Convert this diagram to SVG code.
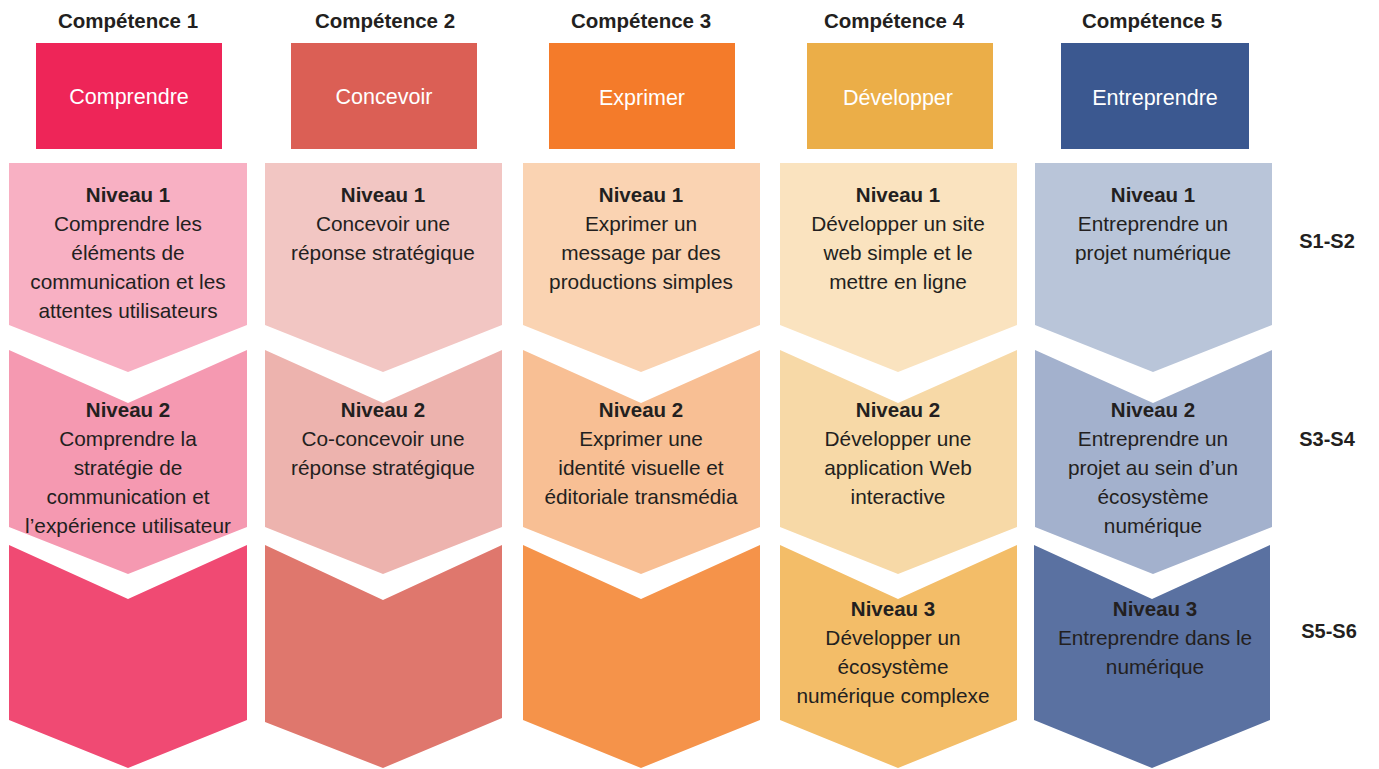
<svg xmlns="http://www.w3.org/2000/svg" width="1379" height="769" viewBox="0 0 1379 769">
<style>
text{font-family:"Liberation Sans",Arial,sans-serif;text-anchor:middle}
.h{font-size:20.5px;font-weight:bold;fill:#231f20}
.w{font-size:21.5px;fill:#ffffff}
.t{font-size:20.8px;fill:#231f20}
.n{font-size:20.5px;font-weight:bold;fill:#231f20}
.s{font-size:20px;font-weight:bold;fill:#231f20}
</style>
<rect width="1379" height="769" fill="#ffffff"/>
<g id="headers">
<g id="comp1"><text class="h" x="128" y="28">Compétence 1</text><rect x="36" y="43" width="186" height="106" fill="#ee2558"/><text class="w" x="129" y="104">Comprendre</text></g>
<g id="comp2"><text class="h" x="385" y="28">Compétence 2</text><rect x="291" y="43" width="186" height="106" fill="#db5f55"/><text class="w" x="384" y="104">Concevoir</text></g>
<g id="comp3"><text class="h" x="641" y="28">Compétence 3</text><rect x="549" y="43" width="186" height="106" fill="#f47b2a"/><text class="w" x="642" y="105">Exprimer</text></g>
<g id="comp4"><text class="h" x="894" y="28">Compétence 4</text><rect x="807" y="43" width="186" height="106" fill="#ebae48"/><text class="w" x="898" y="105">Développer</text></g>
<g id="comp5"><text class="h" x="1152" y="28">Compétence 5</text><rect x="1061" y="43" width="188" height="106" fill="#3b5890"/><text class="w" x="1155" y="105">Entreprendre</text></g>
</g>
<g id="col1">
<polygon points="9,163 247,163 247,325 128,372 9,325" fill="#f8b0c3"/>
<polygon points="9,350 128,403 247,350 247,527 128,574 9,527" fill="#f599b1"/>
<polygon points="9,545 128,599 247,545 247,720 128,768 9,720" fill="#f04a73"/>
<text class="n" x="128" y="202">Niveau 1</text>
<text class="t" x="128" y="231">Comprendre les</text>
<text class="t" x="128" y="260">éléments de</text>
<text class="t" x="128" y="289">communication et les</text>
<text class="t" x="128" y="318">attentes utilisateurs</text>
<text class="n" x="128" y="417">Niveau 2</text>
<text class="t" x="128" y="446">Comprendre la</text>
<text class="t" x="128" y="475">stratégie de</text>
<text class="t" x="128" y="504">communication et</text>
<text class="t" x="128" y="533">l’expérience utilisateur</text>
</g>
<g id="col2">
<polygon points="265,163 502,163 502,325 383,372 265,325" fill="#f2c6c3"/>
<polygon points="265,350 383,403 502,350 502,527 383,574 265,527" fill="#edb3ae"/>
<polygon points="265,545 383,600 502,545 502,718 383,768 265,722" fill="#df776d"/>
<text class="n" x="383" y="202">Niveau 1</text>
<text class="t" x="383" y="231">Concevoir une</text>
<text class="t" x="383" y="260">réponse stratégique</text>
<text class="n" x="383" y="417">Niveau 2</text>
<text class="t" x="383" y="446">Co-concevoir une</text>
<text class="t" x="383" y="475">réponse stratégique</text>
</g>
<g id="col3">
<polygon points="523,163 760,163 760,325 641,372 523,325" fill="#fad3b2"/>
<polygon points="523,350 641,403 760,350 760,527 641,574 523,527" fill="#f8bf94"/>
<polygon points="523,545 641,599 760,545 760,720 641,768 523,720" fill="#f5934a"/>
<text class="n" x="641" y="202">Niveau 1</text>
<text class="t" x="641" y="231">Exprimer un</text>
<text class="t" x="641" y="260">message par des</text>
<text class="t" x="641" y="289">productions simples</text>
<text class="n" x="641" y="417">Niveau 2</text>
<text class="t" x="641" y="446">Exprimer une</text>
<text class="t" x="641" y="475">identité visuelle et</text>
<text class="t" x="641" y="504">éditoriale transmédia</text>
</g>
<g id="col4">
<polygon points="780,163 1017,163 1017,325 898,372 780,325" fill="#fae3bf"/>
<polygon points="780,350 898,403 1017,350 1017,527 898,574 780,527" fill="#f7d9a7"/>
<polygon points="780,545 898,599 1017,545 1017,720 898,768 780,720" fill="#f3bd68"/>
<text class="n" x="898" y="202">Niveau 1</text>
<text class="t" x="898" y="231">Développer un site</text>
<text class="t" x="898" y="260">web simple et le</text>
<text class="t" x="898" y="289">mettre en ligne</text>
<text class="n" x="898" y="417">Niveau 2</text>
<text class="t" x="898" y="446">Développer une</text>
<text class="t" x="898" y="475">application Web</text>
<text class="t" x="898" y="504">interactive</text>
<text class="n" x="893" y="616">Niveau 3</text>
<text class="t" x="893" y="645">Développer un</text>
<text class="t" x="893" y="674">écosystème</text>
<text class="t" x="893" y="703">numérique complexe</text>
</g>
<g id="col5">
<polygon points="1035,163 1272,163 1272,325 1153,372 1035,325" fill="#b9c5d9"/>
<polygon points="1035,350 1153,403 1272,350 1272,527 1153,574 1035,527" fill="#a3b1cd"/>
<polygon points="1034,545 1152,599 1270,545 1270,720 1152,768 1034,720" fill="#5a71a1"/>
<text class="n" x="1153" y="202">Niveau 1</text>
<text class="t" x="1153" y="231">Entreprendre un</text>
<text class="t" x="1153" y="260">projet numérique</text>
<text class="n" x="1153" y="417">Niveau 2</text>
<text class="t" x="1153" y="446">Entreprendre un</text>
<text class="t" x="1153" y="475">projet au sein d’un</text>
<text class="t" x="1153" y="504">écosystème</text>
<text class="t" x="1153" y="533">numérique</text>
<text class="n" x="1155" y="616">Niveau 3</text>
<text class="t" x="1155" y="645">Entreprendre dans le</text>
<text class="t" x="1155" y="674">numérique</text>
</g>
<g id="semesters">
<text class="s" x="1327" y="248">S1-S2</text>
<text class="s" x="1327" y="446">S3-S4</text>
<text class="s" x="1329" y="638">S5-S6</text>
</g>
<g id="connectors"></g>
</svg>
